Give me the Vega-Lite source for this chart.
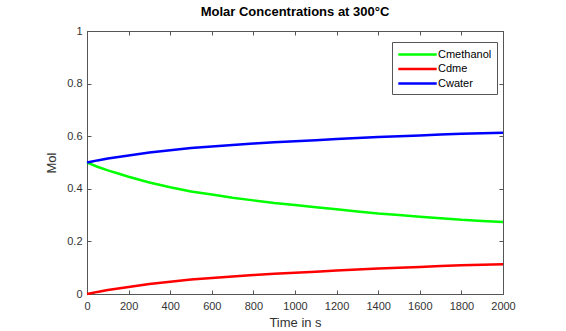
{
  "$schema": "https://vega.github.io/schema/vega-lite/v6.json",
  "width": 416,
  "height": 263,
  "autosize": {"type": "none"},
  "padding": {"left": 87, "top": 31, "right": 63, "bottom": 37},
  "background": "white",
  "config": {
    "font": "Liberation Sans",
    "view": {"stroke": "#555555", "strokeWidth": 1},
    "axis": {
      "grid": false,
      "domainColor": "#555555",
      "tickColor": "#555555",
      "tickSize": -4,
      "labelColor": "#333333",
      "labelFontSize": 11,
      "labelFont": "Liberation Sans",
      "titleFont": "Liberation Sans",
      "titleFontSize": 13,
      "titleFontWeight": "normal",
      "titleColor": "#333333"
    }
  },
  "title": {
    "text": "Molar Concentrations at 300°C",
    "fontSize": 13,
    "fontWeight": "bold",
    "font": "Liberation Sans",
    "color": "#000000",
    "offset": 6,
    "anchor": "middle"
  },
  "data": {
    "values": [
      {"t": 0, "Cmethanol": 0.5, "Cdme": 0.0, "Cwater": 0.5},
      {"t": 25, "Cmethanol": 0.492, "Cdme": 0.004, "Cwater": 0.504},
      {"t": 50, "Cmethanol": 0.484, "Cdme": 0.008, "Cwater": 0.508},
      {"t": 100, "Cmethanol": 0.47, "Cdme": 0.015, "Cwater": 0.515},
      {"t": 150, "Cmethanol": 0.458, "Cdme": 0.021, "Cwater": 0.521},
      {"t": 200, "Cmethanol": 0.446, "Cdme": 0.027, "Cwater": 0.527},
      {"t": 300, "Cmethanol": 0.424, "Cdme": 0.038, "Cwater": 0.538},
      {"t": 400, "Cmethanol": 0.406, "Cdme": 0.047, "Cwater": 0.547},
      {"t": 500, "Cmethanol": 0.39, "Cdme": 0.055, "Cwater": 0.555},
      {"t": 600, "Cmethanol": 0.378, "Cdme": 0.061, "Cwater": 0.561},
      {"t": 700, "Cmethanol": 0.366, "Cdme": 0.067, "Cwater": 0.567},
      {"t": 800, "Cmethanol": 0.356, "Cdme": 0.072, "Cwater": 0.572},
      {"t": 900, "Cmethanol": 0.346, "Cdme": 0.077, "Cwater": 0.577},
      {"t": 1000, "Cmethanol": 0.338, "Cdme": 0.081, "Cwater": 0.581},
      {"t": 1100, "Cmethanol": 0.33, "Cdme": 0.085, "Cwater": 0.585},
      {"t": 1200, "Cmethanol": 0.322, "Cdme": 0.089, "Cwater": 0.589},
      {"t": 1300, "Cmethanol": 0.314, "Cdme": 0.093, "Cwater": 0.593},
      {"t": 1400, "Cmethanol": 0.306, "Cdme": 0.097, "Cwater": 0.597},
      {"t": 1500, "Cmethanol": 0.3, "Cdme": 0.1, "Cwater": 0.6},
      {"t": 1600, "Cmethanol": 0.294, "Cdme": 0.103, "Cwater": 0.603},
      {"t": 1700, "Cmethanol": 0.288, "Cdme": 0.106, "Cwater": 0.606},
      {"t": 1800, "Cmethanol": 0.282, "Cdme": 0.109, "Cwater": 0.609},
      {"t": 1900, "Cmethanol": 0.278, "Cdme": 0.111, "Cwater": 0.611},
      {"t": 2000, "Cmethanol": 0.274, "Cdme": 0.113, "Cwater": 0.613}
    ]
  },
  "transform": [{"fold": ["Cmethanol", "Cdme", "Cwater"], "as": ["series", "value"]}],
  "layer": [
    {
      "mark": {"type": "line", "strokeWidth": 2.5},
      "encoding": {
        "x": {
          "field": "t", "type": "quantitative",
          "scale": {"domain": [0, 2000], "nice": false},
          "axis": {"title": "Time in s", "format": "d", "values": [0,200,400,600,800,1000,1200,1400,1600,1800,2000], "labelPadding": 10, "titlePadding": 5, "labelFlush": false}
        },
        "y": {
          "field": "value", "type": "quantitative",
          "scale": {"domain": [0, 1], "nice": false},
          "axis": {"title": "Mol", "format": "~g", "values": [0,0.2,0.4,0.6,0.8,1], "labelPadding": 9, "titlePadding": 8, "labelFlush": false}
        },
        "color": {
          "field": "series", "type": "nominal",
          "scale": {"domain": ["Cmethanol", "Cdme", "Cwater"], "range": ["#00ff00", "#ff0000", "#0000ff"]},
          "legend": {
            "title": null,
            "orient": "none",
            "legendX": 305,
            "legendY": 11,
            "symbolType": "M-3.2,0H3.2",
            "symbolSize": 144,
            "symbolStrokeWidth": 2.5,
            "symbolOffset": 13,
            "labelFontSize": 11,
            "labelColor": "#000000",
            "labelFont": "Liberation Sans",
            "strokeColor": "#555555",
            "fillColor": "white",
            "padding": 5,
            "rowPadding": 1.5,
            "labelOffset": 13
          }
        }
      }
    },
    {
      "mark": {"type": "line", "opacity": 0},
      "encoding": {
        "x": {
          "field": "t", "type": "quantitative",
          "scale": {"domain": [0, 2000], "nice": false},
          "axis": {"orient": "top", "title": null, "labels": false, "values": [0,200,400,600,800,1000,1200,1400,1600,1800,2000]}
        },
        "y": {
          "field": "value", "type": "quantitative",
          "scale": {"domain": [0, 1], "nice": false},
          "axis": {"orient": "right", "title": null, "labels": false, "values": [0,0.2,0.4,0.6,0.8,1]}
        },
        "detail": {"field": "series"}
      }
    }
  ],
  "resolve": {"axis": {"x": "independent", "y": "independent"}}
}
